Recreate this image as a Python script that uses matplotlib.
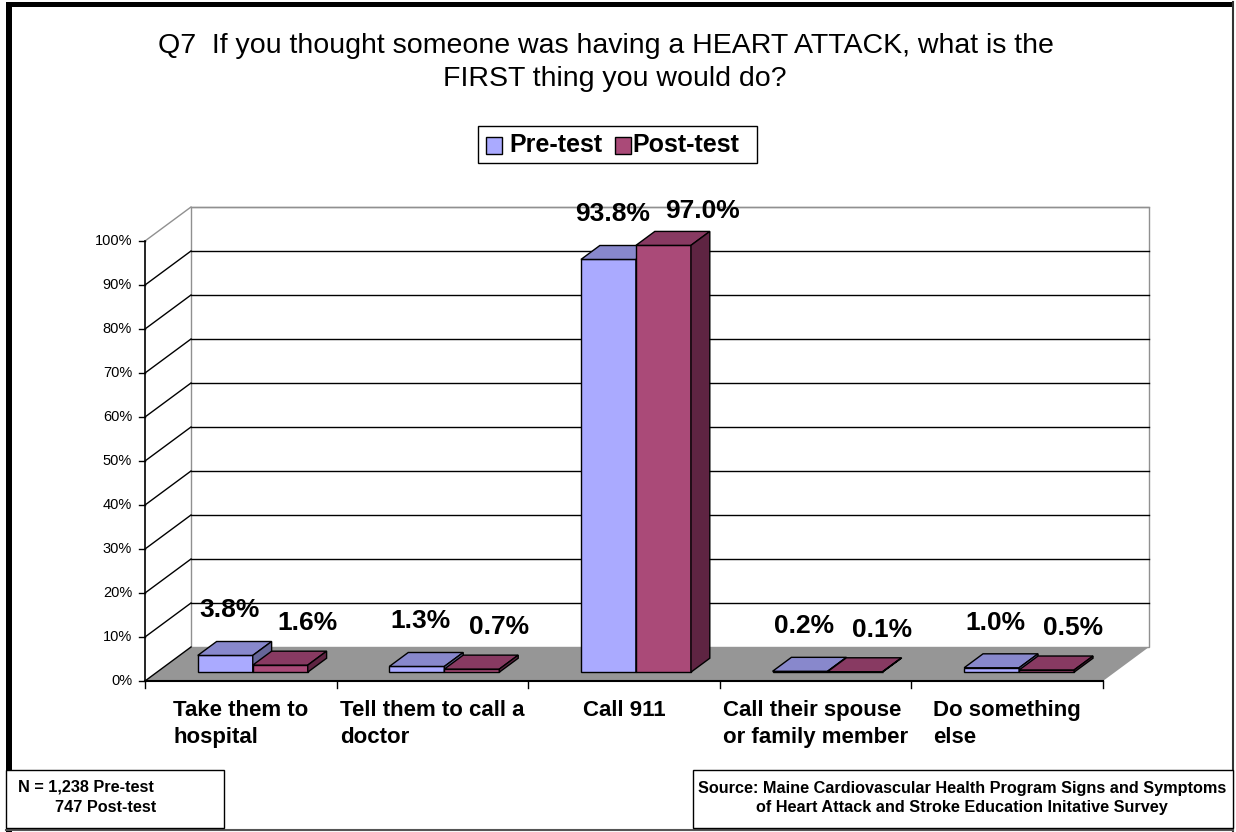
import matplotlib.pyplot as plt
from matplotlib.patches import Polygon, Rectangle

plt.rcParams['font.family'] = ['Liberation Sans', 'DejaVu Sans']

categories = ["Take them to\nhospital", "Tell them to call a\ndoctor", "Call 911",
              "Call their spouse\nor family member", "Do something\nelse"]
pre_test = [3.8, 1.3, 93.8, 0.2, 1.0]
post_test = [1.6, 0.7, 97.0, 0.1, 0.5]
series_names = ["Pre-test", "Post-test"]
y_ticks = [0, 10, 20, 30, 40, 50, 60, 70, 80, 90, 100]

title_lines = ["Q7  If you thought someone was having a HEART ATTACK, what is the",
               "FIRST thing you would do?"]
sample_note = ["N = 1,238 Pre-test", "747 Post-test"]
source_note = ("Source: Maine Cardiovascular Health Program Signs and Symptoms\n"
               "of Heart Attack and Stroke Education Initative Survey")

# face colours: front, top, side
pre_cols = ("#aaaaff", "#8888cc", "#666699")
post_cols = ("#aa4a78", "#883a62", "#5e2442")

W, H = 1236, 832
fig = plt.figure(figsize=(W / 100, H / 100), dpi=100)

# chart axes: x in category units, y in percent, front plane of the floor at y=0
X0, X1, Y0, Y100 = 145, 1103, 681, 241
sx = (X1 - X0) / len(categories)
sy = (Y0 - Y100) / 100.0
ax = fig.add_axes([0, 0, 1, 1])
ax.set_xlim(-X0 / sx, (W - X0) / sx)
ax.set_ylim((Y0 - H) / sy, Y0 / sy)
ax.axis("off")

# oblique depth vector
DX, DY = 46 / sx, 34 / sy
d0, d1 = 0.26, 0.67
bw = 0.287
n = len(categories)


def proj(x, v, d):
    return (x + d * DX, v + d * DY)


def quad(pts, fc, ec, lw=1.0, z=1):
    ax.add_patch(Polygon([proj(*p) for p in pts], closed=True, facecolor=fc,
                         edgecolor=ec, linewidth=lw, zorder=z, joinstyle="miter"))


# walls and floor
quad([(0, 0, 0), (0, 100, 0), (0, 100, 1), (0, 0, 1)], "white", "none", z=0)
quad([(0, 0, 1), (n, 0, 1), (n, 100, 1), (0, 100, 1)], "white", "#909090", z=0)
quad([(0, 0, 0), (n, 0, 0), (n, 0, 1), (0, 0, 1)], "#969696", "none", z=0)

for v in y_ticks[1:]:
    c = "#909090" if v == 100 else "black"
    xs, ys = zip(proj(0, v, 1), proj(n, v, 1))
    ax.plot(xs, ys, color=c, lw=1, zorder=0.5)
    xs, ys = zip(proj(0, v, 0), proj(0, v, 1))
    ax.plot(xs, ys, color=c, lw=1, zorder=0.5)
xs, ys = zip(proj(0, 0, 0), proj(0, 0, 1))
ax.plot(xs, ys, color="black", lw=1, zorder=0.5)

# value axis
ax.plot([0, 0], [0, 100], color="black", lw=1.2, zorder=3)
for v in y_ticks:
    ax.plot([-6 / sx, 0], [v, v], color="black", lw=1, zorder=3)
    ax.text(-13 / sx, v, f"{v}%", ha="right", va="center", fontsize=10.5)

# category axis
ax.plot([0, n], [0, 0], color="black", lw=1.5, zorder=3)
for i in range(n + 1):
    ax.plot([i, i], [0, -7 / sy], color="black", lw=1, zorder=3)
for i, lab in enumerate(categories):
    ax.text(i + 0.5, -19 / sy, lab, ha="center", va="top", multialignment="left",
            fontsize=16, fontweight="bold", linespacing=1.4)


def bar3d(xa, xb, v, cols):
    quad([(xa, 0, d0), (xb, 0, d0), (xb, v, d0), (xa, v, d0)], cols[0], "black", z=2)
    quad([(xa, v, d0), (xb, v, d0), (xb, v, d1), (xa, v, d1)], cols[1], "black", z=2)
    quad([(xb, 0, d0), (xb, 0, d1), (xb, v, d1), (xb, v, d0)], cols[2], "black", z=2)


for i in range(n):
    c = i + 0.5
    bar3d(c - bw, c, pre_test[i], pre_cols)
    bar3d(c, c + bw, post_test[i], post_cols)
    ax.text(c - bw / 2 + d0 * DX + 4 / sx, pre_test[i] + d0 * DY + 45 / sy,
            f"{pre_test[i]:.1f}%", ha="center", va="center", fontsize=19,
            fontweight="bold", zorder=4)
    # labels near the top of the value range sit lower and further right
    dx_off, dy_off = (8, 42) if post_test[i] < 95 else (20, 34)
    ax.text(c + bw / 2 + d1 * DX + dx_off / sx, post_test[i] + d0 * DY + dy_off / sy,
            f"{post_test[i]:.1f}%", ha="center", va="center", fontsize=19,
            fontweight="bold", zorder=4)

# overlay in pixel coordinates for title, legend, notes and frame
ov = fig.add_axes([0, 0, 1, 1], facecolor="none")
ov.set_xlim(0, W)
ov.set_ylim(H, 0)
ov.axis("off")

ov.text(606, 46, title_lines[0], ha="center", va="center", fontsize=20.5)
ov.text(615, 79, title_lines[1], ha="center", va="center", fontsize=20.5)

# legend
ov.add_patch(Rectangle((478, 126), 279, 37, facecolor="white", edgecolor="black", lw=1))
for x0, name, cols, tx in [(486, series_names[0], pre_cols, 509),
                           (615, series_names[1], post_cols, 632)]:
    ov.add_patch(Rectangle((x0, 137), 16, 17, facecolor=cols[0], edgecolor="black", lw=1))
    ov.text(tx, 145.5, name, ha="left", va="center", fontsize=18, fontweight="bold")

# notes
ov.add_patch(Rectangle((6, 770), 218, 58, facecolor="white", edgecolor="black", lw=1, zorder=3))
ov.text(18, 787, sample_note[0], ha="left", va="center", fontsize=11.7, fontweight="bold", zorder=4)
ov.text(55, 808, sample_note[1], ha="left", va="center", fontsize=11.7, fontweight="bold", zorder=4)
ov.add_patch(Rectangle((693, 770), 540, 58, facecolor="white", edgecolor="black", lw=1, zorder=3))
ov.text(962, 798, source_note, ha="center", va="center", fontsize=11.7, fontweight="bold",
        linespacing=1.3, zorder=4)

# frame
ov.add_patch(Rectangle((6, 2), 6, H - 2, facecolor="black", edgecolor="none", zorder=2))
ov.add_patch(Rectangle((6, 2), 1227, 5, facecolor="black", edgecolor="none", zorder=2))
ov.plot([1233, 1233], [2, H], color="#333333", lw=1.5, zorder=2)
ov.plot([6, 1233], [830, 830], color="#555555", lw=1.5, zorder=2)

fig.savefig("out.png", dpi=100)
